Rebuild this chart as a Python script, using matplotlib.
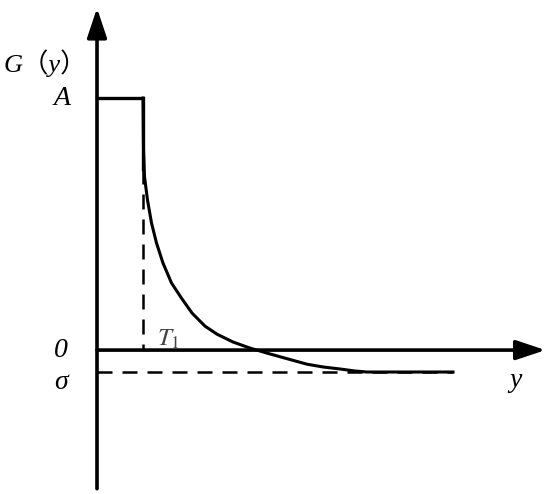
import numpy as np
import matplotlib.pyplot as plt

## Values (T1 = 1, A = 1)

A = 1.0
T1 = 1.0
sigma = -0.087
x_max = 9.7
y_top = 1.357
y_bottom = -0.55
sigma_end = 7.74
dash_top = 0.72

curve_x = [1.0, 1.011, 1.033, 1.098, 1.185, 1.293, 1.435, 1.620, 1.837, 2.065, 2.348,
           2.609, 2.957, 3.326, 3.696, 4.087, 4.565, 4.913, 5.283, 5.609, 5.870, 6.435, 7.739]
curve_y = [1.0, 0.794, 0.687, 0.595, 0.504, 0.425, 0.345, 0.266, 0.206, 0.147, 0.095,
           0.063, 0.032, 0.008, -0.012, -0.032, -0.056, -0.067, -0.075, -0.083, -0.087,
           -0.087, -0.087]

serif = ['Liberation Serif', 'Noto Sans CJK SC']

###############################################
## Figure
###############################################

fig = plt.figure(figsize=(5.5, 4.94), dpi=100)
ax = fig.add_axes([0, 0, 1, 1])
ax.set_xlim(-2.109, 9.848)
ax.set_ylim(-0.571, 1.389)
ax.axis('off')

arrow = dict(arrowstyle='-|>,head_length=0.9,head_width=0.3', mutation_scale=20,
             lw=2.6, color='black', shrinkA=0, shrinkB=0)
ax.annotate('', xy=(0, y_top), xytext=(0, y_bottom), arrowprops=arrow)
ax.annotate('', xy=(x_max + 0.05, 0), xytext=(0, 0), arrowprops=arrow)

# step part and decay
ax.plot([0, T1, T1], [A, A, dash_top], color='black', lw=2.4, solid_joinstyle='miter')
ax.plot(curve_x, curve_y, color='black', lw=2.2, solid_joinstyle='round')

# dashed guides
ax.plot([T1, T1], [dash_top, 0], color='black', lw=1.8, dashes=(6, 4))
ax.plot([0, sigma_end], [sigma, sigma], color='black', lw=1.8, dashes=(6, 4))

# labels
ax.text(-1.12, 1.14, 'G（y）', family=serif, style='italic', fontsize=19, va='center', ha='center')
ax.text(-0.75, A, 'A', family=serif, style='italic', fontsize=20, va='center', ha='center')
ax.text(-0.78, 0.0, '0', family=serif, style='italic', fontsize=20, va='center', ha='center')
ax.text(-0.78, -0.13, 'σ', family=serif, style='italic', fontsize=20, va='center', ha='center')
ax.text(1.55, 0.045, '$T_1$', fontsize=18, color='#444444', va='center', ha='center',
        math_fontfamily='stix')
ax.text(9.1, -0.12, 'y', family=serif, style='italic', fontsize=20, va='center', ha='center')

fig.savefig('out.png')
